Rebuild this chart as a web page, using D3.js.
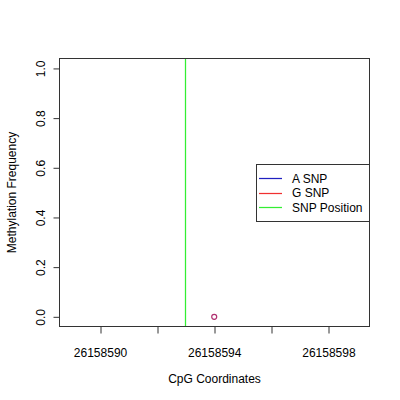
<!DOCTYPE html>
<html><head><meta charset="utf-8">
<script src="https://cdn.jsdelivr.net/npm/d3@7"></script>
<style>body{margin:0;background:#fff}svg{display:block}text{font-family:"Liberation Sans",Arial,sans-serif;fill:#000}</style>
</head><body>
<script>
const xTicks = [26158590, 26158592, 26158594, 26158596, 26158598];
const xTickLabels = ["26158590", "", "26158594", "", "26158598"];
const yTicks = [0, 0.2, 0.4, 0.6, 0.8, 1.0];
const yTickLabels = ["0.0", "0.2", "0.4", "0.6", "0.8", "1.0"];
const snpPosition = [26158593];
const pointsX = [26158594];
const pointsY = [0];
const legendLabels = ["A SNP", "G SNP", "SNP Position"];
const legendColors = ["#2020c0", "#f03030", "#33ee33"];

const W = 400, H = 400;
const FONT = 12;
const svg = d3.select("body").append("svg").attr("width", W).attr("height", H);
const L = 59.5, R = 369.5, T = 58.5, B = 326.5;
const x = d3.scaleLinear().domain([26158588.58, 26158599.44]).range([L, R]);
const y = d3.scaleLinear().domain([-0.039, 1.04]).range([B, T]);
const px = v => Math.round(v - 0.5) + 0.5;

// SNP position line
svg.selectAll("line.snp").data(snpPosition).enter().append("line")
  .attr("x1", d => px(x(d))).attr("x2", d => px(x(d))).attr("y1", T).attr("y2", B)
  .attr("stroke", "#33ee33").attr("stroke-width", 1.25);

// points
svg.selectAll("circle.pt").data(pointsX).enter().append("circle")
  .attr("cx", d => x(d)).attr("cy", (d, i) => y(pointsY[i])).attr("r", 2.5)
  .attr("fill", "none").attr("stroke", "#b03070").attr("stroke-width", 1.2);

// frame
svg.append("rect").attr("x", L).attr("y", T).attr("width", R - L).attr("height", B - T)
  .attr("fill", "none").attr("stroke", "#333").attr("stroke-width", 1);

// x axis
const xa = svg.append("g").attr("transform", `translate(0,${B})`)
  .call(d3.axisBottom(x).tickValues(xTicks).tickSize(7).tickPadding(15)
    .tickFormat((d, i) => xTickLabels[i]));
xa.select(".domain").remove();
xa.selectAll("line").attr("stroke", "#333").attr("transform", d => `translate(${px(x(d)) - x(d)},0)`);
xa.selectAll("text").attr("font-size", FONT).style("font-family", '"Liberation Sans",Arial,sans-serif');

// y axis
const ya = svg.append("g").attr("transform", `translate(${L},0)`)
  .call(d3.axisLeft(y).tickValues(yTicks).tickSize(6).tickFormat((d, i) => yTickLabels[i]));
ya.select(".domain").remove();
ya.selectAll("line").attr("stroke", "#333");
ya.selectAll("text").attr("font-size", FONT).style("font-family", '"Liberation Sans",Arial,sans-serif')
  .attr("text-anchor", "middle").attr("x", 0).attr("dy", 0)
  .attr("transform", "translate(-15,0) rotate(-90)");

// axis titles
svg.append("text").attr("x", (L + R) / 2).attr("y", 383).attr("text-anchor", "middle")
  .attr("font-size", FONT).text("CpG Coordinates");
svg.append("text").attr("transform", `translate(16,${(T + B) / 2}) rotate(-90)`)
  .attr("text-anchor", "middle").attr("font-size", FONT).text("Methylation Frequency");

// legend
const lg = svg.append("g");
lg.append("rect").attr("x", 256.5).attr("y", 164.5).attr("width", R - 256.5).attr("height", 57)
  .attr("fill", "#fff").attr("stroke", "#333");
legendLabels.forEach((lab, i) => {
  const yy = 178.5 + i * 14.5;
  lg.append("line").attr("x1", 259).attr("x2", 282).attr("y1", px(yy)).attr("y2", px(yy))
    .attr("stroke", legendColors[i]).attr("stroke-width", 1.25);
  lg.append("text").attr("x", 292).attr("y", yy + 4).attr("font-size", FONT).text(lab);
});
</script>
</body></html>
